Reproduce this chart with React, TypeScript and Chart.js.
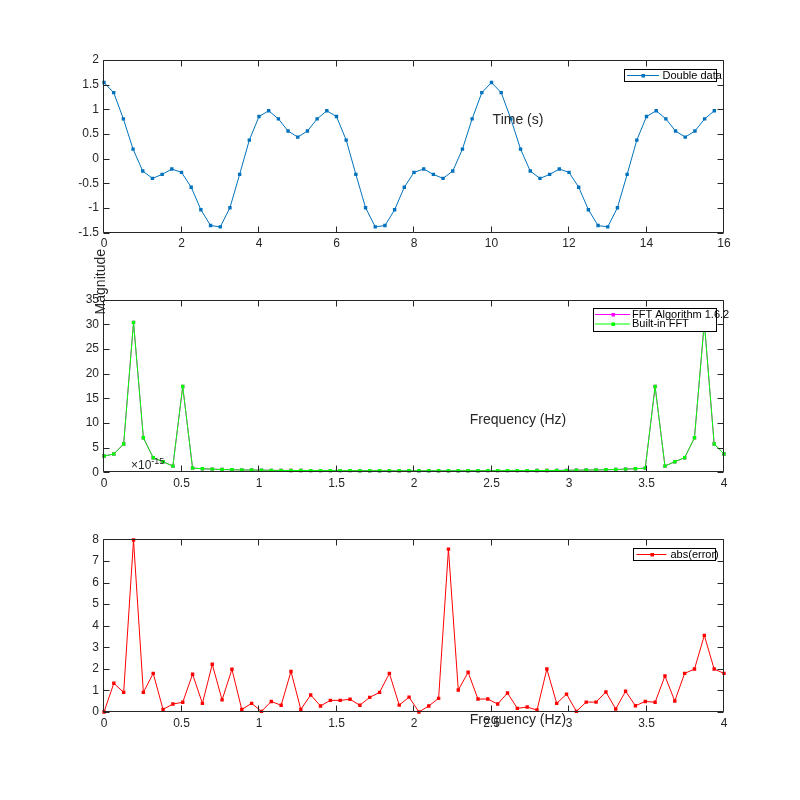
import React, { useEffect, useRef } from "react";
import { Chart, registerables } from "chart.js";

Chart.register(...registerables);

const FONT_FAMILY = "'Liberation Sans', Arial, Helvetica, sans-serif";
const INK = "#262626";
const BLUE = "#0072BD";
const GREEN = "#00FF00";
const MAGENTA = "#FF00FF";
const RED = "#FF0000";

// ---------------- data ----------------
// Top subplot: time signal sampled every 0.25 s (64 samples)
const sampleStepS = 0.25;
const doubleData = [
  1.543, 1.338, 0.806, 0.192, -0.252, -0.401, -0.32, -0.211, -0.279, -0.579,
  -1.036, -1.357, -1.384, -0.995, -0.32, 0.376, 0.853, 0.97, 0.806, 0.56,
  0.437, 0.56, 0.806, 0.97, 0.853, 0.376, -0.32, -0.995, -1.384, -1.357,
  -1.036, -0.579, -0.279, -0.211, -0.32, -0.401, -0.252, 0.192, 0.806, 1.338,
  1.543, 1.338, 0.806, 0.192, -0.252, -0.401, -0.32, -0.211, -0.279, -0.579,
  -1.036, -1.357, -1.384, -0.995, -0.32, 0.376, 0.853, 0.97, 0.806, 0.56,
  0.437, 0.56, 0.806, 0.97,
];

// Middle subplot: FFT magnitude (64 bins plotted over 0..4 Hz)
const fftAlgorithm162 = [
  3.3, 3.7, 5.75, 30.4, 7.0, 2.96, 2.14, 1.26, 17.4, 0.85,
  0.72, 0.65, 0.56, 0.52, 0.48, 0.46, 0.44, 0.4, 0.38, 0.37,
  0.36, 0.35, 0.34, 0.34, 0.33, 0.33, 0.32, 0.32, 0.32, 0.31,
  0.31, 0.31, 0.31, 0.31, 0.31, 0.31, 0.32, 0.32, 0.32, 0.33,
  0.33, 0.34, 0.34, 0.35, 0.36, 0.37, 0.38, 0.4, 0.44, 0.46,
  0.48, 0.52, 0.56, 0.65, 0.72, 0.85, 17.4, 1.26, 2.14, 2.96,
  7.0, 30.4, 5.75, 3.7,
];
const builtInFft = [
  3.3, 3.7, 5.75, 30.4, 7.0, 2.96, 2.14, 1.26, 17.4, 0.85,
  0.72, 0.65, 0.56, 0.52, 0.48, 0.46, 0.44, 0.4, 0.38, 0.37,
  0.36, 0.35, 0.34, 0.34, 0.33, 0.33, 0.32, 0.32, 0.32, 0.31,
  0.31, 0.31, 0.31, 0.31, 0.31, 0.31, 0.32, 0.32, 0.32, 0.33,
  0.33, 0.34, 0.34, 0.35, 0.36, 0.37, 0.38, 0.4, 0.44, 0.46,
  0.48, 0.52, 0.56, 0.65, 0.72, 0.85, 17.4, 1.26, 2.14, 2.96,
  7.0, 30.4, 5.75, 3.7,
];

// Bottom subplot: abs(error) in units of 1e-15
const absError = [
  0, 1.33, 0.91, 7.97, 0.91, 1.79, 0.12, 0.37, 0.45, 1.75,
  0.4, 2.21, 0.56, 1.98, 0.12, 0.4, 0.03, 0.49, 0.31, 1.88,
  0.12, 0.79, 0.28, 0.54, 0.54, 0.59, 0.31, 0.68, 0.91, 1.79,
  0.32, 0.69, 0.0, 0.28, 0.63, 7.55, 1.02, 1.84, 0.6, 0.6,
  0.37, 0.88, 0.17, 0.23, 0.09, 1.99, 0.4, 0.83, 0.03, 0.46,
  0.46, 0.93, 0.14, 0.96, 0.29, 0.49, 0.45, 1.67, 0.51, 1.79,
  1.99, 3.55, 1.99, 1.79,
];

// x positions
const timeS = doubleData.map((_, i) => i * sampleStepS);
const freqMaxHz = 4;
const freqHz = builtInFft.map((_, i) => (freqMaxHz * i) / (builtInFft.length - 1));

// tick labels
const timeTicks = [0, 2, 4, 6, 8, 10, 12, 14, 16];
const amplitudeTicks = [-1.5, -1, -0.5, 0, 0.5, 1, 1.5, 2];
const freqTicks = [0, 0.5, 1, 1.5, 2, 2.5, 3, 3.5, 4];
const magnitudeTicks = [0, 5, 10, 15, 20, 25, 30, 35];
const errorTicks = [0, 1, 2, 3, 4, 5, 6, 7, 8];

// ---------------- helpers ----------------
const W = 800;
const H = 800;
const AXIS_LEFT = 104;
const AXIS_RIGHT = 724;
const X_AXIS_H = 30;
const TICK_LEN = 6;

type LegendEntry = { label: string; color: string };
type LegendSpec = {
  x: number;
  y: number;
  w: number;
  h: number;
  rows: number[];
  lineX: number;
  lineW: number;
  textX: number;
  entries: LegendEntry[];
};
type TextSpec = {
  text: string;
  x: number;
  y: number;
  size: number;
  align?: CanvasTextAlign;
  rotate?: boolean;
  sup?: string;
  supSize?: number;
  supDy?: number;
};

function font(size: number) {
  return `${size}px ${FONT_FAMILY}`;
}

function matlabPlugin(legend: LegendSpec | null, texts: TextSpec[]) {
  return {
    id: "matlabAxes",
    afterDatasetsDraw(chart: any) {
      const { ctx, chartArea: a } = chart;
      const xs = chart.scales.x;
      const ys = chart.scales.y;
      ctx.save();
      // axes box + inward ticks
      ctx.strokeStyle = INK;
      ctx.lineWidth = 1;
      const l = Math.round(a.left) - 0.5;
      const r = Math.round(a.right) - 0.5;
      const t = Math.round(a.top) + 0.5;
      const b = Math.round(a.bottom) - 0.5;
      ctx.beginPath();
      ctx.rect(l, t, r - l, b - t);
      for (const tk of xs.ticks) {
        const px = Math.round(xs.getPixelForValue(tk.value)) - 0.5;
        ctx.moveTo(px, b);
        ctx.lineTo(px, b - TICK_LEN);
        ctx.moveTo(px, t);
        ctx.lineTo(px, t + TICK_LEN);
      }
      for (const tk of ys.ticks) {
        const py = Math.round(ys.getPixelForValue(tk.value)) + 0.5;
        ctx.moveTo(l, py);
        ctx.lineTo(l + TICK_LEN, py);
        ctx.moveTo(r, py);
        ctx.lineTo(r - TICK_LEN, py);
      }
      ctx.stroke();

      // legend
      if (legend) {
        ctx.fillStyle = "#ffffff";
        ctx.fillRect(legend.x, legend.y, legend.w, legend.h);
        legend.entries.forEach((e, i) => {
          const cy = legend.rows[i];
          ctx.strokeStyle = e.color;
          ctx.lineWidth = 1;
          ctx.beginPath();
          ctx.moveTo(legend.lineX, cy + 0.5);
          ctx.lineTo(legend.lineX + legend.lineW, cy + 0.5);
          ctx.stroke();
          ctx.fillStyle = e.color;
          const mx = Math.round(legend.lineX + legend.lineW / 2);
          ctx.fillRect(mx - 1.5, cy - 1, 3.5, 3.5);
          ctx.fillStyle = "#000000";
          ctx.font = font(11);
          ctx.textAlign = "left";
          ctx.textBaseline = "middle";
          ctx.fillText(e.label, legend.textX, cy + 0.5);
        });
        ctx.strokeStyle = "#000000";
        ctx.lineWidth = 1;
        ctx.strokeRect(legend.x + 0.5, legend.y + 0.5, legend.w, legend.h);
      }

      // free text (axis labels and exponent)
      for (const tx of texts) {
        ctx.save();
        ctx.fillStyle = INK;
        ctx.font = font(tx.size);
        ctx.textBaseline = "alphabetic";
        ctx.textAlign = tx.align || "center";
        if (tx.rotate) {
          ctx.translate(tx.x, tx.y);
          ctx.rotate(-Math.PI / 2);
          ctx.fillText(tx.text, 0, 0);
        } else {
          ctx.fillText(tx.text, tx.x, tx.y);
          if (tx.sup) {
            const w = ctx.measureText(tx.text).width;
            ctx.font = font(tx.supSize || 9);
            ctx.textAlign = "left";
            ctx.fillText(tx.sup, tx.x + w, tx.y + (tx.supDy || -5));
          }
        }
        ctx.restore();
      }
      ctx.restore();
    },
  };
}

type PlotSpec = {
  datasets: any[];
  top: number;
  bottom: number;
  xMin: number;
  xMax: number;
  xTicks: number[];
  yMin: number;
  yMax: number;
  yTicks: number[];
  legend: LegendSpec | null;
  texts: TextSpec[];
};

function series(label: string, xs: number[], ys: number[], color: string, order: number) {
  return {
    label,
    data: ys.map((y, i) => ({ x: xs[i], y })),
    borderColor: color,
    backgroundColor: color,
    borderWidth: 1,
    pointStyle: "rect",
    pointRadius: 2.4,
    pointBorderWidth: 0,
    pointBackgroundColor: color,
    pointHoverRadius: 2.4,
    tension: 0,
    fill: false,
    clip: 4,
    order,
  };
}

function makeConfig(p: PlotSpec): any {
  const tickFont = { family: FONT_FAMILY, size: 12 };
  return {
    type: "line",
    data: { datasets: p.datasets },
    options: {
      responsive: false,
      maintainAspectRatio: false,
      animation: false,
      devicePixelRatio: 1,
      events: [],
      layout: {
        padding: {
          left: 0,
          right: W - AXIS_RIGHT,
          top: p.top,
          bottom: H - p.bottom - X_AXIS_H,
        },
      },
      plugins: {
        legend: { display: false },
        tooltip: { enabled: false },
        title: { display: false },
      },
      scales: {
        x: {
          type: "linear",
          min: p.xMin,
          max: p.xMax,
          grid: { display: false, drawTicks: false },
          border: { display: false },
          ticks: {
            padding: 4,
            color: INK,
            font: tickFont,
            autoSkip: false,
            maxRotation: 0,
            minRotation: 0,
            callback: (v: number) => String(v),
          },
          afterBuildTicks: (s: any) => {
            s.ticks = p.xTicks.map((v) => ({ value: v }));
          },
          afterFit: (s: any) => {
            s.height = X_AXIS_H;
          },
        },
        y: {
          type: "linear",
          min: p.yMin,
          max: p.yMax,
          grid: { display: false, drawTicks: false },
          border: { display: false },
          ticks: {
            padding: 5,
            color: INK,
            font: tickFont,
            autoSkip: false,
            callback: (v: number) => String(v),
          },
          afterBuildTicks: (s: any) => {
            s.ticks = p.yTicks.map((v) => ({ value: v }));
          },
          afterFit: (s: any) => {
            s.width = AXIS_LEFT;
          },
        },
      },
    },
    plugins: [matlabPlugin(p.legend, p.texts)],
  };
}

function buildConfigs(): any[] {
  const top = makeConfig({
    datasets: [series("Double data", timeS, doubleData, BLUE, 0)],
    top: 60,
    bottom: 232.6,
    xMin: 0,
    xMax: 16,
    xTicks: timeTicks,
    yMin: -1.5,
    yMax: 2,
    yTicks: amplitudeTicks,
    legend: {
      x: 624,
      y: 69,
      w: 92,
      h: 12,
      rows: [75],
      lineX: 627,
      lineW: 32,
      textX: 662.5,
      entries: [{ label: "Double data", color: BLUE }],
    },
    texts: [{ text: "Time (s)", x: 518, y: 124, size: 14 }],
  });

  const middle = makeConfig({
    datasets: [
      series("Built-in FFT", freqHz, builtInFft, GREEN, 0),
      series("FFT Algorithm 1.6.2", freqHz, fftAlgorithm162, MAGENTA, 1),
    ],
    top: 299.7,
    bottom: 472.3,
    xMin: 0,
    xMax: 4,
    xTicks: freqTicks,
    yMin: 0,
    yMax: 35,
    yTicks: magnitudeTicks,
    legend: {
      x: 593,
      y: 308,
      w: 123,
      h: 23,
      rows: [314, 323.5],
      lineX: 595,
      lineW: 35,
      textX: 632,
      entries: [
        { label: "FFT Algorithm 1.6.2", color: MAGENTA },
        { label: "Built-in FFT", color: GREEN },
      ],
    },
    texts: [
      { text: "Frequency (Hz)", x: 518, y: 423.5, size: 14 },
      { text: "Magnitude", x: 105, y: 281.7, size: 14, rotate: true },
    ],
  });

  const bottom = makeConfig({
    datasets: [series("abs(error)", freqHz, absError, RED, 0)],
    top: 539.4,
    bottom: 712,
    xMin: 0,
    xMax: 4,
    xTicks: freqTicks,
    yMin: 0,
    yMax: 8,
    yTicks: errorTicks,
    legend: {
      x: 633,
      y: 548,
      w: 82,
      h: 12,
      rows: [554],
      lineX: 636.5,
      lineW: 30,
      textX: 670.5,
      entries: [{ label: "abs(error)", color: RED }],
    },
    texts: [
      { text: "Frequency (Hz)", x: 518, y: 723.5, size: 14 },
      {
        text: "\u00d710",
        x: 131,
        y: 468.5,
        size: 12,
        align: "left",
        sup: "-15",
        supSize: 9,
        supDy: -5,
      },
    ],
  });
  return [top, middle, bottom];
}

function App() {
  const refs = [
    useRef<HTMLCanvasElement>(null),
    useRef<HTMLCanvasElement>(null),
    useRef<HTMLCanvasElement>(null),
  ];
  useEffect(() => {
    const configs = buildConfigs();
    const charts = configs.map((cfg, i) => new Chart(refs[i].current as HTMLCanvasElement, cfg));
    return () => {
      charts.forEach((c) => c.destroy());
    };
  }, []);
  return (
    <div
      style={{
        position: "absolute",
        left: 0,
        top: 0,
        width: W,
        height: H,
        background: "#ffffff",
        overflow: "hidden",
      }}
    >
      {refs.map((r, i) => (
        <canvas
          key={i}
          ref={r}
          width={W}
          height={H}
          style={{ position: "absolute", left: 0, top: 0, width: W, height: H }}
        />
      ))}
    </div>
  );
}

export default App;
